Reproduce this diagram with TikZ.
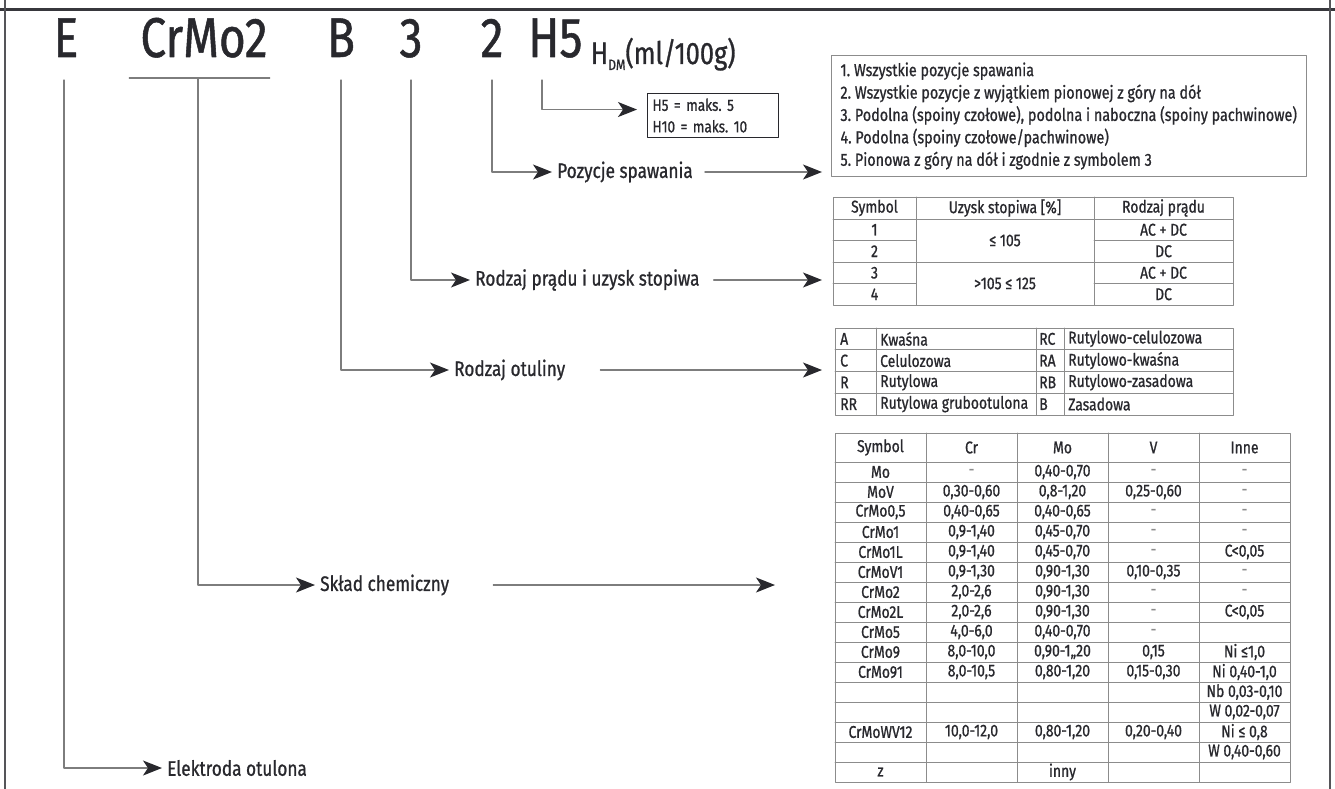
\documentclass[tikz,border=0pt]{standalone}
\usepackage{fontspec}
\setmainfont[FakeStretch=0.82,FakeBold=0.9]{Fira Sans}
\usetikzlibrary{arrows.meta,positioning}

\definecolor{framegray}{RGB}{55,55,60}
\definecolor{linegray}{RGB}{125,125,125}
\definecolor{tabgray}{RGB}{140,140,140}
\definecolor{inkdark}{RGB}{40,40,45}
\newcommand{\nodash}{\textcolor{tabgray}{-}}

\tikzset{
  codechar/.style={font=\fontsize{56}{56}\selectfont, text=inkdark, anchor=base, inner sep=0pt},
  lbl/.style={font=\fontsize{21}{24}\selectfont, text=inkdark, anchor=west, inner sep=2pt},
  lead/.style={linegray, line width=1.3pt,
    -{Stealth[length=19pt,width=15pt,inset=5pt,color=inkdark]}},
  tabline/.style={tabgray, line width=0.9pt},
  tabframe/.style={draw=tabgray, line width=0.9pt, inner sep=0pt, anchor=north west},
  cell/.style={font=\fontsize{17}{17}\selectfont, text=inkdark, inner sep=0pt},
}

\begin{document}
\frenchspacing
\begin{tikzpicture}[x=1pt,y=-1pt,line cap=round,line join=round]
    \useasboundingbox (0,0) rectangle (1335,789);

    % Ramka
    \draw[framegray,line width=3pt,line cap=butt] (0,10) -- (1335,10);
    \draw[framegray!85,line width=1.6pt,line cap=butt] (5,0) -- (5,789);
    \draw[framegray!85,line width=1.6pt,line cap=butt] (1330,0) -- (1330,789);

    % Oznaczenie
    \node[codechar] (cE) at (66,57) {E};
    \node[codechar] (cCrMo) at (204,57) {CrMo2};
    \node[codechar] (cB) at (341,57) {B};
    \node[codechar] (c3) at (411,57) {3};
    \node[codechar] (c2) at (492,57) {2};
    \node[codechar,anchor=base west] (cH) at (528,57) {H5};
    \node[anchor=base west,inner sep=0pt,text=inkdark,font=\fontsize{31}{31}\selectfont] (unit)
        at ([xshift=8pt,yshift=-7pt]cH.base east)
        {H\raisebox{-6pt}{\fontsize{15}{15}\selectfont DM}(ml/100g)};

    \coordinate (topline) at (0,80);
    \coordinate (ulin) at (0,78);

    % Opisy
    \node[lbl] (lPoz) at (555,172) {Pozycje spawania};
    \node[lbl] (lPrad) at (473,280) {Rodzaj prądu i uzysk stopiwa};
    \node[lbl] (lOtul) at (452,370) {Rodzaj otuliny};
    \node[lbl] (lSklad) at (318,585) {Skład chemiczny};
    \node[lbl] (lElek) at (165,768) {Elektroda otulona};

    % Ramki z objaśnieniami
    \node[draw=inkdark,line width=1pt,anchor=north west,align=left,text=inkdark,
          font=\fontsize{16.5}{21.5}\selectfont,inner xsep=5pt,inner ysep=5pt,
          text width=121pt] (hbox) at (647,93)
        {H5 = maks. 5\\H10 = maks. 10};
    \node[draw=tabgray,line width=1pt,anchor=north west,align=left,text=inkdark,
          font=\fontsize{17.5}{22.4}\selectfont,inner xsep=9pt,inner ysep=7pt] (posbox) at (831,55)
        {1. Wszystkie pozycje spawania\\
         2. Wszystkie pozycje z wyjątkiem pionowej z góry na dół\\
         3. Podolna (spoiny czołowe), podolna i naboczna (spoiny pachwinowe)\\
         4. Podolna (spoiny czołowe/pachwinowe)\\
         5. Pionowa z góry na dół i zgodnie z symbolem 3};

    % Tabela: rodzaj prądu
    \node[tabframe,minimum width=400pt,minimum height=108pt] (curtab) at (833,197) {};
    \foreach \xx in {916,1094} {
        \draw[tabline] (\xx,197) -- (\xx,305);
    }
    \draw[tabline] (833,219) -- (1233,219);
    \draw[tabline] (833,262) -- (1233,262);
    \foreach \yy in {240.5,283.5} {
        \draw[tabline] (833,\yy) -- (916,\yy);
        \draw[tabline] (1094,\yy) -- (1233,\yy);
    }
    \node[cell] (ch1) at (874.5,208) {Symbol};
    \node[cell] (ch2) at (1005,208) {Uzysk stopiwa [\%]};
    \node[cell] (ch3) at (1163.5,208) {Rodzaj prądu};
    \foreach \r/\yy/\pr in {1/229.75/AC + DC,2/251.25/DC,3/272.75/AC + DC,4/294.25/DC} {
        \node[cell] (cs\r) at (874.5,\yy) {\r};
        \node[cell] (cp\r) at (1163.5,\yy) {\pr};
    }
    \node[cell] (cu1) at (1005,240.5) {≤ 105};
    \node[cell] (cu2) at (1005,283.5) {>105 ≤ 125};

    % Tabela: otulina
    \node[tabframe,minimum width=398pt,minimum height=87pt] (coattab) at (835,328) {};
    \foreach \xx in {876,1036,1064} {
        \draw[tabline] (\xx,328) -- (\xx,415);
    }
    \foreach \yy in {349.75,371.5,393.25} {
        \draw[tabline] (835,\yy) -- (1233,\yy);
    }
    \foreach \r/\a/\na/\b/\nb in {1/A/Kwaśna/RC/Rutylowo-celulozowa,
                                  2/C/Celulozowa/RA/Rutylowo-kwaśna,
                                  3/R/Rutylowa/RB/Rutylowo-zasadowa,
                                  4/RR/Rutylowa grubootulona/B/Zasadowa} {
        \node[cell,anchor=west] (oa\r) at (840,{317.125+21.75*\r}) {\a};
        \node[cell,anchor=west] (ona\r) at (880,{317.125+21.75*\r}) {\na};
        \node[cell,anchor=west] (ob\r) at (1039,{317.125+21.75*\r}) {\b};
        \node[cell,anchor=west] (onb\r) at (1068,{317.125+21.75*\r}) {\nb};
    }

    % Tabela: skład chemiczny
    \node[tabframe,minimum width=455pt,minimum height=349pt] (chemtab) at (835,433) {};
    \foreach \xx in {926,1017,1108,1199} {
        \draw[tabline] (\xx,433) -- (\xx,782);
    }
    \foreach \yy in {462,482,...,762} {
        \draw[tabline] (835,\yy) -- (1290,\yy);
    }
    \foreach \xx/\hd in {880.5/Symbol,971.5/Cr,1062.5/Mo,1153.5/V,1244.5/Inne} {
        \node[cell] (hd\hd) at (\xx,447.5) {\hd};
    }
    \foreach \r/\sym/\cr/\mo/\va/\ot in {
        1/Mo/\nodash/{0,40-0,70}/\nodash/\nodash,
        2/MoV/{0,30-0,60}/{0,8-1,20}/{0,25-0,60}/\nodash,
        3/{CrMo0,5}/{0,40-0,65}/{0,40-0,65}/\nodash/\nodash,
        4/CrMo1/{0,9-1,40}/{0,45-0,70}/\nodash/\nodash,
        5/CrMo1L/{0,9-1,40}/{0,45-0,70}/\nodash/{C<0,05},
        6/CrMoV1/{0,9-1,30}/{0,90-1,30}/{0,10-0,35}/\nodash,
        7/CrMo2/{2,0-2,6}/{0,90-1,30}/\nodash/\nodash,
        8/CrMo2L/{2,0-2,6}/{0,90-1,30}/\nodash/{C<0,05},
        9/CrMo5/{4,0-6,0}/{0,40-0,70}/\nodash/{},
        10/CrMo9/{8,0-10,0}/{0,90-1,,20}/{0,15}/{Ni ≤1,0},
        11/CrMo91/{8,0-10,5}/{0,80-1,20}/{0,15-0,30}/{Ni 0,40-1,0},
        12/{}/{}/{}/{}/{Nb 0,03-0,10},
        13/{}/{}/{}/{}/{W 0,02-0,07},
        14/CrMoWV12/{10,0-12,0}/{0,80-1,20}/{0,20-0,40}/{Ni ≤ 0,8},
        15/{}/{}/{}/{}/{W 0,40-0,60},
        16/z/{}/inny/{}/{}} {
        \node[cell] (sy\r) at (880.5,{452+20*\r}) {\sym};
        \node[cell] (cr\r) at (971.5,{452+20*\r}) {\cr};
        \node[cell] (mo\r) at (1062.5,{452+20*\r}) {\mo};
        \node[cell] (va\r) at (1153.5,{452+20*\r}) {\va};
        \node[cell] (ot\r) at (1244.5,{452+20*\r}) {\ot};
    }

    % Linie odniesienia
    \draw[linegray,line width=1.3pt] ([xshift=-11pt]cCrMo.west |- ulin) -- ([xshift=2pt]cCrMo.east |- ulin);
    \draw[lead] ([xshift=14pt]cH.west |- topline) |- ([yshift=6pt,xshift=-10pt]hbox.west);
    \draw[lead] (c2 |- topline) |- ([xshift=-3pt]lPoz.west);
    \draw[lead] (c3 |- topline) |- ([xshift=-3pt]lPrad.west);
    \draw[lead] (cB |- topline) |- ([xshift=-3pt]lOtul.west);
    \draw[lead] ([xshift=-6pt]cCrMo.south |- ulin) |- ([xshift=-3pt]lSklad.west);
    \draw[lead] ([xshift=-2pt]cE.south |- topline) |- ([xshift=-3pt]lElek.west);

    \draw[lead] ([xshift=10pt]lPoz.east) -- ([xshift=-9pt]posbox.west |- lPoz);
    \draw[lead] ([xshift=12pt]lPrad.east) -- ([xshift=-11pt]curtab.west |- lPrad);
    \draw[lead] ([xshift=33pt]lOtul.east) -- ([xshift=-13pt]coattab.west |- lOtul);
    \draw[lead] ([xshift=42pt]lSklad.east) -- ([xshift=-60pt]chemtab.west |- lSklad);
\end{tikzpicture}
\end{document}
